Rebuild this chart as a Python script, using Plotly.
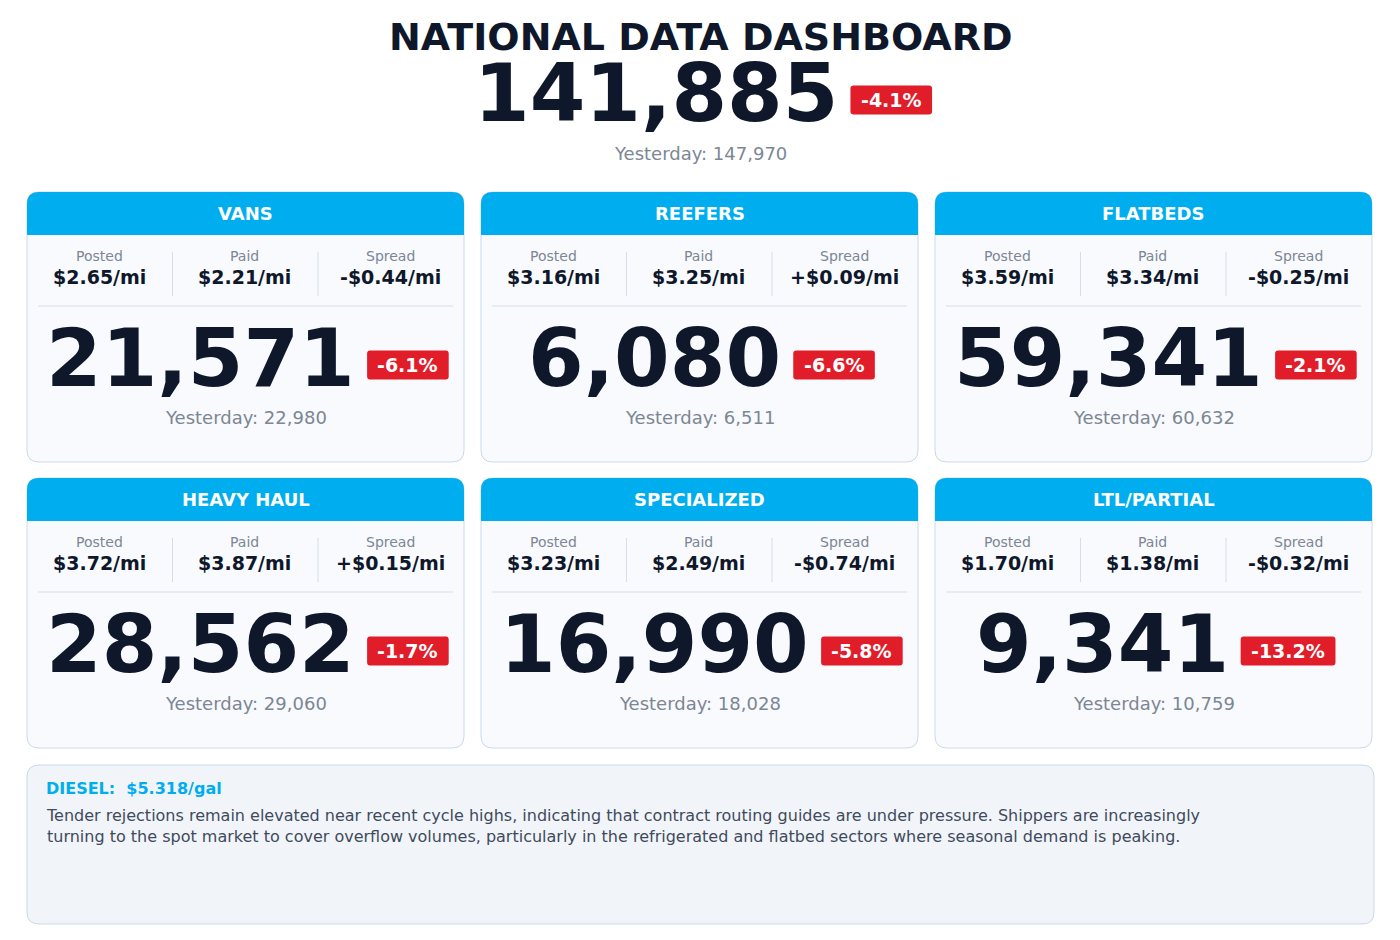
import plotly.graph_objects as go

title = "NATIONAL DATA DASHBOARD"
total_now = 141885
total_yest = 147970
total_chg = "-4.1%"

categories = ["VANS", "REEFERS", "FLATBEDS", "HEAVY HAUL", "SPECIALIZED", "LTL/PARTIAL"]
posted = ["$2.65/mi", "$3.16/mi", "$3.59/mi", "$3.72/mi", "$3.23/mi", "$1.70/mi"]
paid = ["$2.21/mi", "$3.25/mi", "$3.34/mi", "$3.87/mi", "$2.49/mi", "$1.38/mi"]
spread = ["-$0.44/mi", "+$0.09/mi", "-$0.25/mi", "+$0.15/mi", "-$0.74/mi", "-$0.32/mi"]
counts = [21571, 6080, 59341, 28562, 16990, 9341]
yesterday = [22980, 6511, 60632, 29060, 18028, 10759]
changes = ["-6.1%", "-6.6%", "-2.1%", "-1.7%", "-5.8%", "-13.2%"]

diesel = "DIESEL:  $5.318/gal"
commentary = ("Tender rejections remain elevated near recent cycle highs, indicating that contract routing guides are under pressure. Shippers are increasingly<br>"
              "turning to the spot market to cover overflow volumes, particularly in the refrigerated and flatbed sectors where seasonal demand is peaking.")

DARK = "#0F172A"; GRAY = "#7C8794"; CYAN = "#00AEEF"; RED = "#E11D2A"
BORDER = "#C9D9EA"; CARDBG = "#F8FAFD"
FONT = "DejaVu Sans"

W = {'-': 0.415, '.': 0.38, '%': 1.002, ',': 0.38}
def tw(s, size):
    return size * sum(W.get(c, 0.696) for c in s)

def rr(x0, y0, x1, y1, r, top_only=False):
    rb = 0 if top_only else r
    return (f"M{x0+r},{y0} L{x1-r},{y0} Q{x1},{y0} {x1},{y0+r} L{x1},{y1-rb} Q{x1},{y1} {x1-rb},{y1} "
            f"L{x0+rb},{y1} Q{x0},{y1} {x0},{y1-rb} L{x0},{y0+r} Q{x0},{y0} {x0+r},{y0} Z")

shapes = []; ann = []
def text(x, y, s, size, color, bold=False, xa="center"):
    ann.append(dict(x=x, y=y, text=f"<b>{s}</b>" if bold else s, showarrow=False, xanchor=xa, yanchor="middle",
                    font=dict(family=FONT, size=size, color=color)))

def big_group(cx, y, num, chg, nsize=80, bsize=19):
    ns = f"{num:,}"
    nw = tw(ns, nsize); bw = tw(chg, bsize) + 21; gap = 14
    total = nw + gap + bw
    left = cx - total / 2
    text(left, y, ns, nsize, DARK, True, "left")
    bx0 = left + nw + gap
    by = y + 7
    shapes.append(dict(type="path", path=rr(bx0, by - 14.5, bx0 + bw, by + 14.5, 3), fillcolor=RED, line=dict(width=0)))
    text(bx0 + bw / 2, by, chg, bsize, "white", True)

text(700, 37, title, 38, DARK, True)
big_group(702, 93, total_now, total_chg)
text(700, 153, f"Yesterday: {total_yest:,}", 18, GRAY)

xs = [27, 481, 935]; ys = [192, 478]; cw = 437; ch = 270
for i, cat in enumerate(categories):
    x0 = xs[i % 3]; y0 = ys[i // 3]; x1 = x0 + cw; y1 = y0 + ch
    shapes.append(dict(type="path", path=rr(x0, y0, x1, y1, 12), fillcolor=CARDBG, line=dict(color=BORDER, width=1)))
    shapes.append(dict(type="path", path=rr(x0, y0, x1, y0 + 43, 12, True), fillcolor=CYAN, line=dict(width=0)))
    text(x0 + cw / 2, y0 + 21, cat, 18, "white", True)
    for j, (lab, val) in enumerate(zip(["Posted", "Paid", "Spread"], [posted[i], paid[i], spread[i]])):
        cx = x0 + 72 + 145.5 * j
        text(cx, y0 + 64, lab, 14, GRAY)
        text(cx, y0 + 85, val, 19, DARK, True)
    for d in [145.5, 291]:
        shapes.append(dict(type="line", x0=x0 + d, x1=x0 + d, y0=y0 + 60, y1=y0 + 104, line=dict(color="#D5DEE8", width=1)))
    shapes.append(dict(type="line", x0=x0 + 11, x1=x1 - 11, y0=y0 + 114, y1=y0 + 114, line=dict(color="#D5DEE8", width=1)))
    big_group(x0 + cw / 2 + 1, y0 + 166, counts[i], changes[i])
    text(x0 + cw / 2, y0 + 225, f"Yesterday: {yesterday[i]:,}", 18, GRAY)

shapes.append(dict(type="path", path=rr(27, 765, 1374, 924, 12), fillcolor="#F1F5FA", line=dict(color=BORDER, width=1)))
text(44, 788, diesel, 16, CYAN, True, "left")
ann.append(dict(x=44, y=826, text=commentary, showarrow=False, xanchor="left", yanchor="middle", align="left",
                font=dict(family=FONT, size=16, color="#3F4A5A")))

fig = go.Figure()
fig.update_layout(width=1400, height=940, margin=dict(l=0, r=0, t=0, b=0), paper_bgcolor="white", plot_bgcolor="white",
                  xaxis=dict(range=[8, 1408], visible=False, fixedrange=True),
                  yaxis=dict(range=[948, 8], visible=False, fixedrange=True),
                  shapes=shapes, annotations=ann, showlegend=False)
fig.write_html("out.html", config={"displayModeBar": False})
